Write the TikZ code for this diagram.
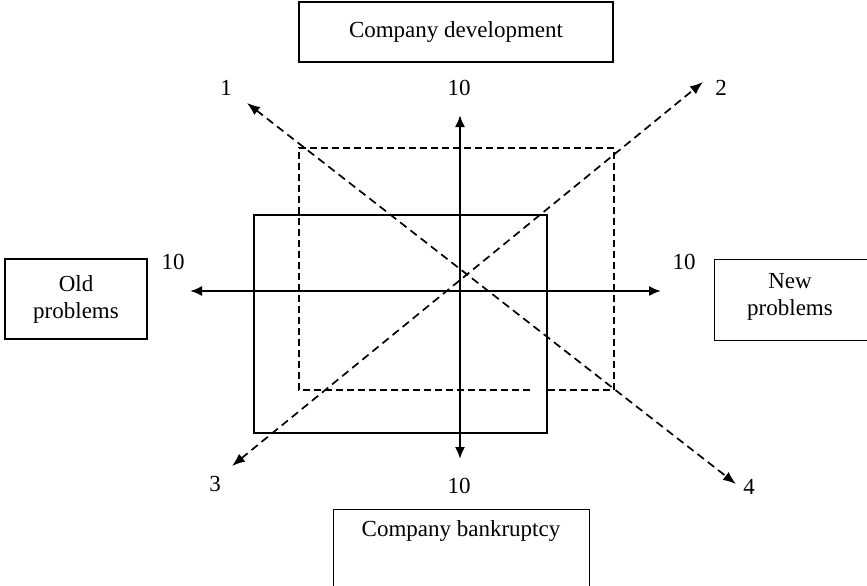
\documentclass[tikz,border=0pt]{standalone}
\usepackage{fontspec}
\setmainfont{Liberation Serif}
\usetikzlibrary{arrows.meta}
\tikzset{
  box/.style={draw, line width=1.2pt, inner sep=0pt, align=center},
  axis/.style={line width=2pt, {Latex[length=12pt,width=10pt]}-{Latex[length=12pt,width=10pt]}},
  diag/.style={line width=1.7pt, dash pattern=on 8pt off 5pt, {Latex[length=13pt,width=10pt]}-{Latex[length=13pt,width=10pt]}},
  frame/.style={line width=1.2pt},
  dframe/.style={line width=1.2pt, dash pattern=on 7pt off 4pt},
  lbl/.style={inner sep=0pt}
}
\begin{document}
\begin{tikzpicture}[x=1pt,y=-1pt,font=\fontsize{23}{27}\selectfont]
\useasboundingbox (0,0) rectangle (867,586);

% outer labelled boxes
\node[box, minimum width=314, minimum height=60] (dev) at (456,32) {Company development};
\node[box, minimum width=256, minimum height=84, anchor=north west] (bank) at (333,509) {};
\node[lbl] (banktext) at (461,531) {Company bankruptcy};
\node[box, minimum width=142, minimum height=80] (old) at (76,299) {Old\\problems};
\node[box, minimum width=160, minimum height=81, anchor=north west] (new) at (714,259) {};
\node[lbl, align=center] (newtext) at (790,297) {New\\problems};

% inner frames
\draw[frame] (254,215) rectangle (547,433);
\coordinate (dA) at (299,148);
\coordinate (dB) at (614,148);
\coordinate (dC) at (614,390);
\coordinate (dD) at (299,390);
\coordinate (dE) at (530,390);
\coordinate (dF) at (547,390);
\draw[dframe] (dE) -- (dD) -- (dA) -- (dB) -- (dC) -- (dF);

% axis end points
\coordinate (vt) at (460,115);
\coordinate (vb) at (460,459);
\coordinate (hl) at (190,291);
\coordinate (hr) at (661,291);
\coordinate (t1) at (247,103);
\coordinate (t2) at (703,82);
\coordinate (t3) at (232,466);
\coordinate (t4) at (736,484);

\draw[axis] (vt) -- (vb);
\draw[axis] (hl) -- (hr);
\draw[diag] (t1) -- (t4);
\draw[diag] (t3) -- (t2);

% axis labels
\node[lbl] (n1) at (226,88) {1};
\node[lbl] (n2) at (721,88) {2};
\node[lbl] (n3) at (215,484) {3};
\node[lbl] (n4) at (749,487) {4};
\node[lbl] (ntop) at (459,88) {10};
\node[lbl] (nbot) at (459,486) {10};
\node[lbl] (nleft) at (173,262) {10};
\node[lbl] (nright) at (684,262) {10};
\end{tikzpicture}
\end{document}
